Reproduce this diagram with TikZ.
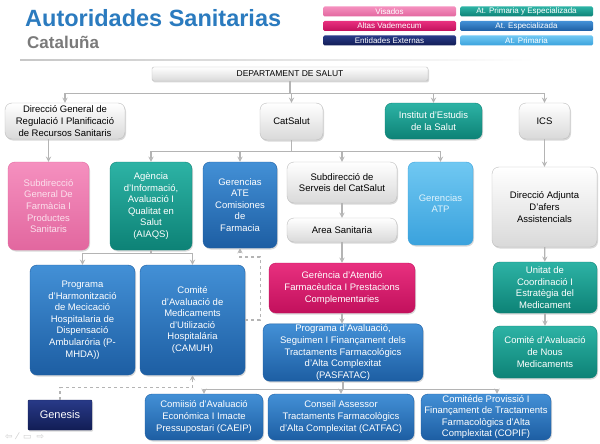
\documentclass[tikz,border=0pt]{standalone}
\usepackage{fontspec}
\setmainfont{Liberation Sans}
\newfontfamily\symfont{DejaVu Sans}
\usetikzlibrary{shadows}
\definecolor{titleblue}{HTML}{2B7BBF}
\definecolor{subgrey}{HTML}{7A7A7A}
\definecolor{linegrey}{HTML}{B4B4B4}
\definecolor{greyedge}{HTML}{BDBDBD}
\definecolor{greybot}{HTML}{D9D9D9}
\definecolor{tealtop}{HTML}{2DB3A5}
\definecolor{tealbot}{HTML}{0D8276}
\definecolor{bluetop}{HTML}{4390D6}
\definecolor{bluebot}{HTML}{1D5EA3}
\definecolor{magtop}{HTML}{E8307F}
\definecolor{magbot}{HTML}{C2105C}
\definecolor{pinktop}{HTML}{F590BF}
\definecolor{pinkbot}{HTML}{E2679F}
\definecolor{pinktext}{HTML}{FBE0EC}
\definecolor{ltbluetop}{HTML}{70C8F2}
\definecolor{ltbluebot}{HTML}{3AA2DD}
\definecolor{ltbluetext}{HTML}{E0F3FC}
\definecolor{navytop}{HTML}{283A88}
\definecolor{navybot}{HTML}{121D55}
\tikzstyle{box}=[rectangle, rounded corners=7pt, align=center, inner sep=1pt,
                 font=\fontsize{9.5}{11.6}\selectfont,
                 drop shadow={opacity=.3,shadow xshift=1pt,shadow yshift=-1.5pt}]
\tikzstyle{greybox}=[box, top color=white, bottom color=greybot, draw=greyedge, text=black]
\tikzstyle{bluebox}=[box, top color=bluetop, bottom color=bluebot, draw=bluebot, text=white]
\tikzstyle{tealbox}=[box, top color=tealtop, bottom color=tealbot, draw=tealbot, text=white]
\tikzstyle{magbox}=[box, top color=magtop, bottom color=magbot, draw=magbot, text=white]
\tikzstyle{pinkbox}=[box, top color=pinktop, bottom color=pinkbot, draw=pinkbot, text=pinktext]
\tikzstyle{ltbluebox}=[box, top color=ltbluetop, bottom color=ltbluebot, draw=ltbluebot, text=ltbluetext]
\tikzstyle{navybox}=[box, rounded corners=1pt, top color=navytop, bottom color=navybot, draw=navybot, text=white]
\tikzstyle{key}=[rectangle, rounded corners=1.5pt, inner sep=0pt, minimum width=133pt,
                 minimum height=10pt, text=white, font=\fontsize{8}{9}\selectfont]
\tikzstyle{link}=[draw=linegrey, line width=1.3pt, ->, >=stealth]
\tikzstyle{dashlink}=[link, dashed]

\begin{document}
\begin{tikzpicture}[x=1pt,y=-1pt]
\useasboundingbox[fill=white] (0,0) rectangle (600,444);

\node[anchor=base west, inner sep=0pt, text=titleblue, font=\fontsize{23.5}{26}\selectfont\bfseries] (title) at (25,27) {Autoridades Sanitarias};
\node[anchor=base west, inner sep=0pt, text=subgrey, font=\fontsize{17}{20}\selectfont\bfseries] (region) at (27,49) {Cataluña};
\shade[left color=black!22, right color=white] (20,59.6) rectangle (535,60.6);

\node[key, top color=pinktop, bottom color=pinkbot] (visados) at (389.5,11.5) {Visados};
\node[key, top color=magtop, bottom color=magbot] (altas) at (389.5,26) {Altas Vademecum};
\node[key, top color=navytop, bottom color=navybot] (externas) at (389.5,40.5) {Entidades Externas};
\node[key, top color=tealtop, bottom color=tealbot] (ape) at (526.5,11.5) {At. Primaria y Especializada};
\node[key, top color=bluetop, bottom color=bluebot] (aesp) at (526.5,26) {At. Especializada};
\node[key, top color=ltbluetop, bottom color=ltbluebot] (aprim) at (526.5,40.5) {At. Primaria};

\node[greybox, rounded corners=2pt, minimum width=276pt, minimum height=14pt, font=\fontsize{8.5}{10}\selectfont] (dept) at (290,74) {DEPARTAMENT DE SALUT};

\node[greybox, minimum width=120pt, minimum height=36pt] (dgr) at (65,121) {Direcció General de\\Regulació I Planificació\\de Recursos Sanitaris};
\node[greybox, minimum width=63pt, minimum height=37pt] (catsalut) at (291.5,121.5) {CatSalut};
\node[tealbox, minimum width=97pt, minimum height=36pt] (ies) at (433.5,121) {Institut d'Estudis\\de la Salut};
\node[greybox, minimum width=51pt, minimum height=36pt] (ics) at (544.5,121) {ICS};

\node[pinkbox, minimum width=81pt, minimum height=88pt] (sgf) at (48.5,206) {Subdirecció\\General De\\Farmàcia I\\Productes\\Sanitaris};
\node[tealbox, minimum width=82pt, minimum height=88pt] (aiaqs) at (151,206) {Agència\\d'Informació,\\Avaluació I\\Qualitat en\\Salut\\(AIAQS)};
\node[bluebox, minimum width=74pt, minimum height=86pt] (ate) at (240,205) {Gerencias\\ATE\\Comisiones\\de\\Farmacia};
\node[greybox, minimum width=110pt, minimum height=41pt] (ssc) at (342,182.5) {Subdirecció de\\Serveis del CatSalut};
\node[greybox, minimum width=110pt, minimum height=24pt] (area) at (342,230) {Area Sanitaria};
\node[ltbluebox, minimum width=65pt, minimum height=83pt] (atp) at (440.5,203.5) {Gerencias\\ATP};
\node[greybox, minimum width=105pt, minimum height=80pt] (daa) at (544.5,207) {Direcció Adjunta\\D'afers\\Assistencials};

\node[bluebox, minimum width=105pt, minimum height=110pt] (pmhda) at (82.5,320) {Programa\\d'Harmonització\\de Mecicació\\Hospitalaria de\\Dispensació\\Ambularória (P-\\MHDA))};
\node[bluebox, minimum width=105pt, minimum height=110pt] (camuh) at (192.5,320) {Comité\\d'Avaluació de\\Medicaments\\d'Utilizació\\Hospitalária\\(CAMUH)};
\node[magbox, minimum width=146pt, minimum height=50pt] (gaf) at (342,288) {Gerència d'Atendió\\Farmacèutica I Prestacions\\Complementaries};
\node[bluebox, minimum width=160pt, minimum height=51pt] (pasfatac) at (343,352.5) {Programa d'Avaluació,\\Seguimen I Finançament dels\\Tractaments Farmacológics\\d'Alta Complexitat\\(PASFATAC)};
\node[tealbox, minimum width=104pt, minimum height=51pt] (ucem) at (545,287.5) {Unitat de\\Coordinació I\\Estratègia del\\Medicament};
\node[tealbox, minimum width=104pt, minimum height=52pt] (cann) at (545,352) {Comité d'Avaluació\\de Nous\\Medicaments};

\node[navybox, minimum width=64pt, minimum height=30pt, font=\fontsize{11}{13}\selectfont] (genesis) at (60,415) {Genesis};
\node[bluebox, minimum width=118pt, minimum height=46pt] (caeip) at (204,417) {Comiisió d'Avaluació\\Económica I Imacte\\Pressupostari (CAEIP)};
\node[bluebox, minimum width=146pt, minimum height=46pt] (catfac) at (341,417) {Conseil Assessor\\Tractaments Farmacològics\\d'Alta Complexitat (CATFAC)};
\node[bluebox, minimum width=130pt, minimum height=46pt] (copif) at (486,417) {Comitéde Provissió I\\Finançament de Tractaments\\Farmacològics d'Alta\\Complexitat (COPIF)};

\node[anchor=west, inner sep=0pt, text=black!20, font=\symfont\fontsize{9}{10}\selectfont] (nav) at (5,436) {⇦\hspace{4pt}⁄\hspace{5pt}▭\hspace{5pt}⇨};

\draw[link] (dept.south) -- ++(0,12) -| (dgr.north);
\draw[link] (dept.south) -- ++(0,12) -| (catsalut.north);
\draw[link] (dept.south) -- ++(0,12) -| (ies.north);
\draw[link] (dept.south) -- ++(0,12) -| (ics.north);
\draw[link] (sgf.north |- dgr.south) -- (sgf.north);
\draw[link] (catsalut.south) -- ++(0,11) -| (aiaqs.north);
\draw[link] (catsalut.south) -- ++(0,11) -| (ate.north);
\draw[link] (catsalut.south) -- ++(0,11) -| (ssc.north);
\draw[link] (catsalut.south) -- ++(0,11) -| (atp.north);
\draw[link] (ics) -- (daa);
\draw[link] (ssc) -- (area);
\draw[link] (aiaqs.south) -- ++(0,3) -| (pmhda.north);
\draw[link] (aiaqs.south) -- ++(0,3) -| (camuh.north);
\draw[link] (area) -- (gaf);
\draw[link] (gaf.south) -- (gaf.south |- pasfatac.north);
\draw[link] (daa) -- (ucem);
\draw[link] (ucem) -- (cann);
\draw[link] (pasfatac.south) -- ++(0,8) -| (caeip.north);
\draw[link] (pasfatac.south) -- ++(0,8) -| (catfac.north);
\draw[link] (pasfatac.south) -- ++(0,8) -| ([xshift=11pt]copif.north);
\draw[dashlink] (camuh.east) -- ++(15,0) -- ++(0,-63) -| (ate.south);
\draw[dashlink] (genesis.north) -- ++(0,-12) -| (camuh.south);
\end{tikzpicture}
\end{document}
